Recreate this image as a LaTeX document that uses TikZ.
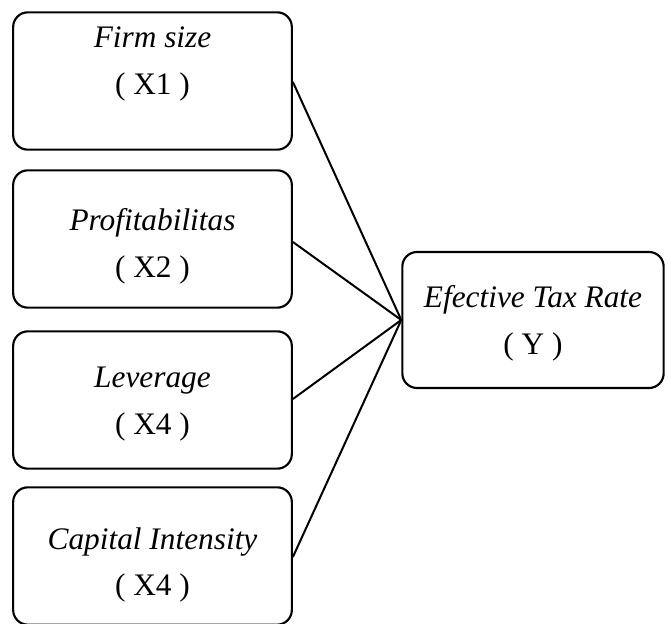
\documentclass[tikz,border=0pt]{standalone}
\usepackage{fontspec}
\setmainfont{Liberation Serif}
\usepackage{tikz}
\usetikzlibrary{positioning, calc}

\begin{document}
\begin{tikzpicture}[
  x=0.75pt, y=-0.75pt,
  varbox/.style={draw, line width=1.6pt, rounded corners=11pt, minimum width=209pt, minimum height=103pt, inner sep=0pt},
  ybox/.style={draw, line width=1.6pt, rounded corners=11pt, minimum width=196pt, minimum height=102pt, inner sep=0pt},
  vtxt/.style={align=center, font=\fontsize{23.5}{35}\selectfont, inner sep=0pt},
  link/.style={line width=1.5pt}
]
  \useasboundingbox (0,0) rectangle (668,624);

  %---------------- LEFT: INDEPENDENT VARIABLES ----------------%
  \node[varbox] (x1) at (152.5, 81) {};
  \node[vtxt] (x1-t) at (152.5, 64) {\textit{Firm size}\\( X1 )};

  \node[varbox] (x2) at (152.5, 239) {};
  \node[vtxt] (x2-t) at (152.5, 246) {\textit{Profitabilitas}\\( X2 )};

  \node[varbox] (x3) at (152.5, 400) {};
  \node[vtxt] (x3-t) at (152.5, 404) {\textit{Leverage}\\( X4 )};

  \node[varbox] (x4) at (152.5, 556) {};
  \node[vtxt] (x4-t) at (152.5, 565) {\textit{Capital Intensity}\\( X4 )};

  %---------------- RIGHT: DEPENDENT VARIABLE ----------------%
  \node[ybox] (y) at (533, 320) {};
  \node[vtxt] (y-t) at (533, 323) {\textit{Efective Tax Rate}\\( Y )};

  %---------------- CONNECTORS ----------------%
  \coordinate (hub) at (y.west);
  \draw[link] ($(x1.east)+(0,1)$) -- (hub);
  \draw[link] ($(x2.east)+(0,3)$) -- (hub);
  \draw[link] ($(x3.east)+(0,-1)$) -- (hub);
  \draw[link] ($(x4.east)+(0,1)$) -- (hub);

\end{tikzpicture}
\end{document}
